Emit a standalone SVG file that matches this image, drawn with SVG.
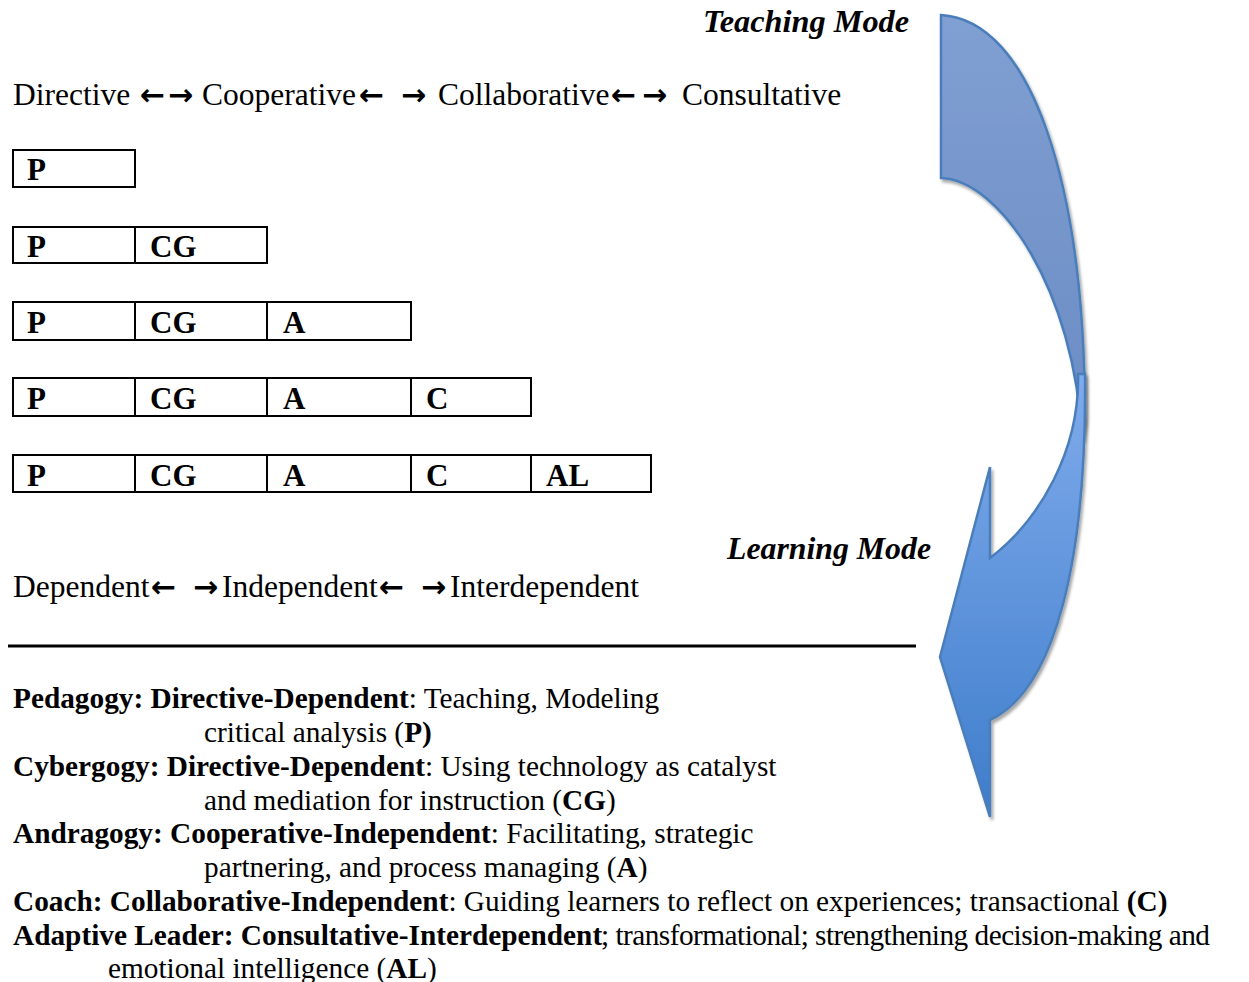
<svg xmlns="http://www.w3.org/2000/svg" width="1249" height="982" viewBox="0 0 1249 982">
<style>
.t{font-family:"Liberation Serif","Times New Roman",serif;font-size:31.5px;fill:#000}
.ar{font-family:"DejaVu Sans",sans-serif;font-size:30px;font-weight:bold;fill:#000}
.mode{font-family:"Liberation Serif","Times New Roman",serif;font-size:31.5px;font-weight:bold;font-style:italic;fill:#000}
.lbl{font-family:"Liberation Serif","Times New Roman",serif;font-size:31px;font-weight:bold;fill:#000}
.box{fill:#fff;stroke:#000;stroke-width:2}
.b{font-family:"Liberation Serif","Times New Roman",serif;font-size:29.3px;fill:#000}
.bold{font-weight:bold}
.band{stroke:#4a7ebb;stroke-width:2.5;stroke-linejoin:miter}
</style>
<defs>
<linearGradient id="gUp" x1="0" y1="0" x2="0" y2="1">
<stop offset="0" stop-color="#809fd2"/>
<stop offset="1" stop-color="#6a8cc4"/>
</linearGradient>
<linearGradient id="gLo" x1="0" y1="0" x2="0" y2="1">
<stop offset="0" stop-color="#80abec"/>
<stop offset="1" stop-color="#3e7dcb"/>
</linearGradient>
<filter id="sh" x="-10%" y="-10%" width="130%" height="130%">
<feDropShadow dx="2" dy="3" stdDeviation="1.5" flood-color="#000" flood-opacity="0.35"/>
</filter>
</defs>

<g id="curved-arrow">
<path class="band" fill="url(#gUp)" filter="url(#sh)" d="M941,15 C1030,20 1085,180 1085,420 L1082,440 C1075,290 1000,180 941,178 Z"/>
<path class="band" fill="url(#gLo)" filter="url(#sh)" d="M1078,374 C1080,450 1040,520 990,558 L990,467 L940,657 L990,817 L990,720 C1055,690 1087,560 1085,374 Z"/>
</g>

<text id="teaching-mode" class="mode" x="703" y="32" textLength="206" lengthAdjust="spacingAndGlyphs">Teaching Mode</text>

<g id="teaching-scale">
<text class="t" x="13" y="105">Directive</text>
<text class="ar" x="140" y="105">←</text>
<text class="ar" x="168" y="105">→</text>
<text class="t" x="202" y="105">Cooperative</text>
<text class="ar" x="359" y="105">←</text>
<text class="ar" x="401" y="105">→</text>
<text class="t" x="438" y="105">Collaborative</text>
<text class="ar" x="611" y="105">←</text>
<text class="ar" x="642" y="105">→</text>
<text class="t" x="682" y="105">Consultative</text>
</g>

<g id="row1">
<rect class="box" x="13" y="150" width="122" height="37"/>
<text class="lbl" x="27" y="180">P</text>
</g>
<g id="row2">
<rect class="box" x="13" y="227" width="122" height="36"/>
<rect class="box" x="135" y="227" width="132" height="36"/>
<text class="lbl" x="27" y="257">P</text>
<text class="lbl" x="150" y="257">CG</text>
</g>
<g id="row3">
<rect class="box" x="13" y="302" width="122" height="38"/>
<rect class="box" x="135" y="302" width="132" height="38"/>
<rect class="box" x="267" y="302" width="144" height="38"/>
<text class="lbl" x="27" y="333">P</text>
<text class="lbl" x="150" y="333">CG</text>
<text class="lbl" x="283" y="333">A</text>
</g>
<g id="row4">
<rect class="box" x="13" y="378" width="122" height="38"/>
<rect class="box" x="135" y="378" width="132" height="38"/>
<rect class="box" x="267" y="378" width="144" height="38"/>
<rect class="box" x="411" y="378" width="120" height="38"/>
<text class="lbl" x="27" y="409">P</text>
<text class="lbl" x="150" y="409">CG</text>
<text class="lbl" x="283" y="409">A</text>
<text class="lbl" x="426" y="409">C</text>
</g>
<g id="row5">
<rect class="box" x="13" y="455" width="122" height="37"/>
<rect class="box" x="135" y="455" width="132" height="37"/>
<rect class="box" x="267" y="455" width="144" height="37"/>
<rect class="box" x="411" y="455" width="120" height="37"/>
<rect class="box" x="531" y="455" width="120" height="37"/>
<text class="lbl" x="27" y="486">P</text>
<text class="lbl" x="150" y="486">CG</text>
<text class="lbl" x="283" y="486">A</text>
<text class="lbl" x="426" y="486">C</text>
<text class="lbl" x="546" y="486">AL</text>
</g>

<text id="learning-mode" class="mode" x="727" y="559" textLength="204" lengthAdjust="spacingAndGlyphs">Learning Mode</text>

<g id="learning-scale">
<text class="t" x="13" y="597">Dependent</text>
<text class="ar" x="151" y="597">←</text>
<text class="ar" x="193" y="597">→</text>
<text class="t" x="222" y="597">Independent</text>
<text class="ar" x="379" y="597">←</text>
<text class="ar" x="421" y="597">→</text>
<text class="t" x="450" y="597">Interdependent</text>
</g>

<line id="divider" x1="8" y1="646" x2="916" y2="646" stroke="#000" stroke-width="3"/>

<g id="legend">
<text class="b" x="13" y="708"><tspan class="bold">Pedagogy: Directive-Dependent</tspan>: Teaching, Modeling</text>
<text class="b" x="204" y="742">critical analysis (<tspan class="bold">P)</tspan></text>
<text class="b" x="13" y="776"><tspan class="bold">Cybergogy: Directive-Dependent</tspan>: Using technology as catalyst</text>
<text class="b" x="204" y="810">and mediation for instruction (<tspan class="bold">CG</tspan>)</text>
<text class="b" x="13" y="843"><tspan class="bold">Andragogy: Cooperative-Independent</tspan>: Facilitating, strategic</text>
<text class="b" x="204" y="877">partnering, and process managing (<tspan class="bold">A</tspan>)</text>
<text class="b" x="13" y="911"><tspan class="bold">Coach: Collaborative-Independent</tspan>: Guiding learners to reflect on experiences; transactional <tspan class="bold">(C)</tspan></text>
<text class="b bold" x="13" y="945">Adaptive Leader: Consultative-Interdependent</text>
<text class="b" x="601" y="945" textLength="609" lengthAdjust="spacing">; transformational; strengthening decision-making and</text>
<text class="b" x="108" y="978">emotional intelligence (<tspan class="bold">AL</tspan>)</text>
</g>
</svg>
